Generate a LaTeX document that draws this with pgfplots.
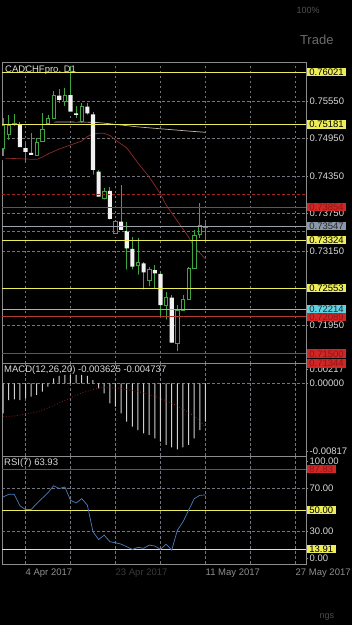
\documentclass[border=0pt]{standalone}
\usepackage{pgfplots}
\pgfplotsset{compat=1.18}
\usepackage{pgfplotstable}
\usepackage{fontspec}
\setmainfont{Liberation Sans}
\newcommand{\fs}{\fontsize{9.5bp}{11bp}\selectfont}

\definecolor{cframe}{HTML}{8C8C8C}
\definecolor{cgrid}{HTML}{74747C}
\definecolor{ctick}{HTML}{DADADA}
\definecolor{cgreen}{HTML}{3FA53F}
\definecolor{cbear}{HTML}{F2F2F2}
\definecolor{cyel}{HTML}{EDED5A}
\definecolor{cred}{HTML}{D02626}
\definecolor{cred2}{HTML}{B23A32}
\definecolor{creddash}{HTML}{A02424}
\definecolor{credtxt}{HTML}{8E1616}
\definecolor{ccyan}{HTML}{5CD3E3}
\definecolor{cgrayline}{HTML}{9AA3AD}
\definecolor{cgraybox}{HTML}{8A99A9}
\definecolor{caskdash}{HTML}{70708F}
\definecolor{cmared}{HTML}{8E2A2A}
\definecolor{cmabeige}{HTML}{BDB5A5}
\definecolor{chist}{HTML}{CFCFCF}
\definecolor{csig}{HTML}{8A2020}
\definecolor{crsi}{HTML}{4D7DBE}
\definecolor{cdate}{HTML}{8F8F8F}
\definecolor{cdim}{HTML}{3A3A3A}

% bullish candles
\pgfplotstableread{
i open high low close
0 0.74801 0.75283 0.74640 0.75170
1 0.75026 0.75331 0.74897 0.75170
2 0.75180 0.75347 0.75122 0.75200
6 0.74689 0.74957 0.74661 0.74897
7 0.74903 0.75358 0.74876 0.75106
8 0.75197 0.75331 0.75170 0.75278
9 0.75278 0.75716 0.75250 0.75652
11 0.75555 0.75764 0.75443 0.75641
14 0.75223 0.75518 0.75170 0.75464
18 0.73993 0.74154 0.73939 0.74099
20 0.73432 0.73645 0.73404 0.73618
24 0.72917 0.73351 0.72735 0.72966
26 0.72682 0.72895 0.72548 0.72858
29 0.72280 0.72494 0.72012 0.72398
31 0.71670 0.72280 0.71505 0.72200
32 0.72200 0.72441 0.72163 0.72377
33 0.72377 0.72895 0.72361 0.72869
34 0.72869 0.73485 0.72842 0.73404
35 0.73416 0.73913 0.73324 0.73565
36 0.73533 0.73645 0.73244 0.73547
}\bull

% bearish candles
\pgfplotstableread{
i open high low close
3 0.75170 0.75218 0.74797 0.74817
4 0.74801 0.74876 0.74528 0.74737
5 0.74721 0.75037 0.74661 0.74689
10 0.75641 0.75748 0.75491 0.75572
12 0.75652 0.76117 0.75363 0.75384
13 0.75358 0.75480 0.75250 0.75331
15 0.75464 0.75518 0.75303 0.75358
16 0.75342 0.75380 0.74340 0.74448
17 0.74420 0.74448 0.73993 0.74019
19 0.74111 0.74180 0.73618 0.73661
21 0.73618 0.74207 0.73457 0.73485
22 0.73468 0.73618 0.72815 0.73190
23 0.73180 0.73377 0.72815 0.72896
25 0.72950 0.72976 0.72494 0.72805
27 0.72842 0.72922 0.72521 0.72789
28 0.72778 0.72815 0.72040 0.72280
30 0.72398 0.72441 0.71638 0.71675
}\bear

\pgfplotstableread{
i p
9 0.75218
12 0.75220
16 0.75215
18 0.75200
21 0.75170
24 0.75140
27 0.75117
30 0.75095
33 0.75073
36 0.75053
}\mabeige

\pgfplotstableread{
i p
0 0.74640
2 0.74632
4 0.74624
6 0.74619
7 0.74656
8 0.74705
10 0.74785
12 0.74849
14 0.74913
15 0.74986
16 0.75026
17 0.75037
18 0.75037
19 0.75002
20 0.74929
21 0.74865
22 0.74801
24 0.74560
26 0.74335
28 0.74062
29 0.73886
30 0.73757
31 0.73629
32 0.73500
33 0.73372
34 0.73212
35 0.73115
36 0.73019
}\mared

\pgfplotstableread{
i h s
0 -0.00361 -0.00402
1 -0.00200 -0.00398
2 -0.00191 -0.00393
3 -0.00200 -0.00381
4 -0.00179 -0.00369
5 -0.00159 -0.00357
6 -0.00139 -0.00345
7 -0.00099 -0.00320
8 -0.00039 -0.00296
9 0.00063 -0.00266
10 0.00091 -0.00236
11 0.00103 -0.00205
12 0.00103 -0.00175
13 0.00103 -0.00145
14 0.00103 -0.00115
15 0.00091 -0.00094
16 0.00042 -0.00073
17 -0.00058 -0.00054
18 -0.00119 -0.00051
19 -0.00240 -0.00052
20 -0.00280 -0.00054
21 -0.00361 -0.00063
22 -0.00462 -0.00073
23 -0.00522 -0.00085
24 -0.00563 -0.00097
25 -0.00603 -0.00115
26 -0.00623 -0.00133
27 -0.00663 -0.00157
28 -0.00704 -0.00182
29 -0.00744 -0.00209
30 -0.00772 -0.00236
31 -0.00796 -0.00272
32 -0.00772 -0.00309
33 -0.00744 -0.00351
34 -0.00663 -0.00393
35 -0.00563 -0.00455
36 -0.00462 -0.00523
}\macd

\pgfplotstableread{
i r
0 62
1 64.5
2 64.5
3 54
4 50.4
5 50.4
6 56
7 61
8 66
9 72.5
10 69.8
11 71.3
12 59
13 56.5
14 60.5
15 54.5
16 29.8
17 22.7
18 26.7
19 20.6
20 19.7
21 18.4
22 16
23 13.5
24 15.4
25 14.5
26 17.5
27 16.6
28 13.5
29 18.4
30 12.9
31 31.3
32 39
33 49.8
34 60.5
35 63.6
36 63.93
}\rsi

\pgfplotsset{
  panel/.style={scale only axis, width=304bp, xmin=-0.178, xmax=53.87,
    enlargelimits=false, scaled ticks=false,
    axis line style={cframe, line width=0.7bp},
    xtick={4,12,20,28,36,44,52}, xticklabels={}, xmajorgrids,
    grid style={cgrid, dash pattern=on 2.5bp off 2.5bp, line width=0.5bp},
    ytick pos=right, yticklabel pos=right, tick align=outside,
    major tick length=2bp, ytick style={cframe, line width=0.5bp},
    xtick style={draw=none},
    yticklabel style={font=\fs, text=ctick, anchor=west, inner sep=0pt, xshift=1.5bp}},
  overlay/.style={scale only axis, width=304bp, height=301.3bp,
    at={(2bp,261.7bp)}, anchor=south west, xmin=-0.178, xmax=53.87,
    ymin=0.71344, ymax=0.76182, hide axis, enlargelimits=false},
  lvl/.style={line width=0.9bp, forget plot},
}
\tikzset{
  lbox/.style={anchor=west, font=\fs, inner xsep=2.5bp, inner ysep=0.9bp,
    text height=6.9bp, text depth=0bp, xshift=0.7bp},
}

\begin{document}
\begin{tikzpicture}
\useasboundingbox (0,0) rectangle (352bp,625bp);
\fill[black] (0,0) rectangle (352bp,625bp);
\node[anchor=east, text=black!58, font=\fontsize{13bp}{14bp}\selectfont] at (337bp,585bp) {Trade};
\node[anchor=west, text=black!68, font=\fontsize{9bp}{10bp}\selectfont] at (293bp,615bp) {100\%};
\node[anchor=west, text=black!70, font=\fontsize{9bp}{10bp}\selectfont] at (316bp,8bp) {ngs};

% ---- main panel: grid, MAs, wicks
\begin{axis}[panel, height=301.3bp, at={(2bp,261.7bp)}, anchor=south west,
  ymin=0.71344, ymax=0.76182,
  ytick={0.7195,0.7255,0.7315,0.7375,0.7435,0.7495,0.7555},
  yticklabels={0.71950,0.72550,0.73150,0.73750,0.74350,0.74950,0.75550},
  ymajorgrids]
\addplot[cmabeige, line width=0.7bp] table[x=i,y=p]{\mabeige};
\addplot[cmared, line width=0.7bp] table[x=i,y=p]{\mared};
\addplot[only marks, mark=none, error bars/.cd, y dir=plus, y explicit, error mark=none,
  error bar style={cgreen, line width=0.8bp}]
  table[x=i, y=low, y error expr=\thisrow{high}-\thisrow{low}]{\bull};
\addplot[only marks, mark=none, error bars/.cd, y dir=plus, y explicit, error mark=none,
  error bar style={cgreen, line width=0.8bp}]
  table[x=i, y=low, y error expr=\thisrow{high}-\thisrow{low}]{\bear};
\node[anchor=north west, font=\fs, text=ctick, inner sep=0pt, xshift=3bp, yshift=-3.5bp]
  at (rel axis cs:0,1) {CADCHFpro, D1};
\end{axis}

% ---- bearish bodies
\begin{axis}[overlay, ybar stacked, bar width=4.2bp]
\addplot[draw=none, fill=none] table[x=i, y=close]{\bear};
\addplot[draw=none, fill=cbear] table[x=i, y expr=\thisrow{open}-\thisrow{close}]{\bear};
\end{axis}

% ---- bullish bodies
\begin{axis}[overlay, ybar stacked, bar width=3.4bp]
\addplot[draw=none, fill=none] table[x=i, y=open]{\bull};
\addplot[draw=cgreen, fill=black, line width=0.8bp] table[x=i, y expr=\thisrow{close}-\thisrow{open}]{\bull};
\end{axis}

% ---- MACD panel
\begin{axis}[panel, height=92.7bp, at={(2bp,169bp)}, anchor=south west,
  ymin=-0.00877, ymax=0.00244, clip=false,
  ytick={-0.00817,0,0.00175}, yticklabels={-0.00817,0.00000,0.00217}]
\addplot[cgrid, dash pattern=on 2.5bp off 2.5bp, line width=0.5bp, forget plot] coordinates {(-0.178,0) (53.87,0)};
\addplot[ybar, bar width=1bp, bar shift=0pt, fill=chist, draw=none] table[x=i,y=h]{\macd};
\addplot[csig, dotted, line width=0.8bp] table[x=i,y=s]{\macd};
\node[anchor=north west, font=\fs, text=ctick, inner sep=0pt, xshift=2bp, yshift=-2.5bp]
  at (rel axis cs:0,1) {MACD(12,26,20) -0.003625 -0.004737};
\end{axis}

% ---- RSI panel
\begin{axis}[panel, height=108bp, at={(2bp,61bp)}, anchor=south west,
  ymin=0, ymax=100, clip=false,
  ytick={5.3,30,70,94.7}, yticklabels={0.00,30.00,70.00,100.00},
  xticklabels={4 Apr 2017,,{\color{cdim}23 Apr 2017},,11 May 2017,,27 May 2017},
  xticklabel style={anchor=north west, font=\fs, text=cdate, inner sep=0pt, yshift=-2.5bp}]
\addplot[lvl, cgrid, line width=0.6bp, dash pattern=on 2.5bp off 2.5bp] coordinates {(-0.178,30) (53.87,30)};
\addplot[lvl, cgrid, line width=0.6bp, dash pattern=on 2.5bp off 2.5bp] coordinates {(-0.178,70) (53.87,70)};
\addplot[lvl, cyel] coordinates {(-0.178,50) (53.87,50)};
\addplot[lvl, cyel] coordinates {(-0.178,13.91) (53.87,13.91)};
\addplot[lvl, cred] coordinates {(-0.178,87.83) (53.87,87.83)};
\addplot[crsi, line width=0.7bp] table[x=i,y=r]{\rsi};
\node[lbox, fill=cred, text=credtxt] at (axis cs:53.87,87.83) {87.83};
\node[lbox, fill=cyel, text=black] at (axis cs:53.87,50) {50.00};
\node[lbox, fill=cyel, text=black] at (axis cs:53.87,13.91) {13.91};
\node[anchor=north west, font=\fs, text=ctick, inner sep=0pt, xshift=2bp, yshift=-2.5bp]
  at (rel axis cs:0,1) {RSI(7) 63.93};
\end{axis}

% ---- main panel levels on top
\begin{axis}[overlay, clip=false]
\addplot[lvl, cyel] coordinates {(-0.178,0.76021) (53.87,0.76021)};
\addplot[lvl, cyel, line width=1.3bp] coordinates {(-0.178,0.75181) (53.87,0.75181)};
\addplot[lvl, creddash, dash pattern=on 2.5bp off 2.5bp] coordinates {(-0.178,0.74062) (53.87,0.74062)};
\addplot[lvl, cred] coordinates {(-0.178,0.73854) (53.87,0.73854)};
\addplot[lvl, cgrayline, line width=0.7bp] coordinates {(-0.178,0.73547) (53.87,0.73547)};
\addplot[lvl, caskdash, line width=0.6bp, dash pattern=on 2.5bp off 2.5bp] coordinates {(-0.178,0.73460) (53.87,0.73460)};
\addplot[lvl, cyel] coordinates {(-0.178,0.73324) (53.87,0.73324)};
\addplot[lvl, cyel] coordinates {(-0.178,0.72553) (53.87,0.72553)};
\addplot[lvl, ccyan] coordinates {(-0.178,0.72214) (53.87,0.72214)};
\addplot[lvl, cred2] coordinates {(-0.178,0.72089) (53.87,0.72089)};
\addplot[lvl, cred] coordinates {(-0.178,0.71500) (53.87,0.71500)};
\node[lbox, fill=cyel, text=black] at (axis cs:53.87,0.76021) {0.76021};
\node[lbox, fill=cyel, text=black] at (axis cs:53.87,0.75181) {0.75181};
\node[lbox, fill=cred, text=credtxt] at (axis cs:53.87,0.73854) {0.73854};
\node[lbox, fill=cgraybox, text=black!85] at (axis cs:53.87,0.73547) {0.73547};
\node[lbox, fill=cyel, text=black] at (axis cs:53.87,0.73324) {0.73324};
\node[lbox, fill=cyel, text=black] at (axis cs:53.87,0.72553) {0.72553};
\node[lbox, fill=ccyan, text=black!85] at (axis cs:53.87,0.72214) {0.72214};
\node[lbox, fill=cred, text=credtxt] at (axis cs:53.87,0.72089) {0.72089};
\node[lbox, fill=cred, text=credtxt] at (axis cs:53.87,0.71500) {0.71500};
\node[lbox, fill=cred, text=credtxt] at (axis cs:53.87,0.71344) {0.71344};
\end{axis}
\end{tikzpicture}
\end{document}
